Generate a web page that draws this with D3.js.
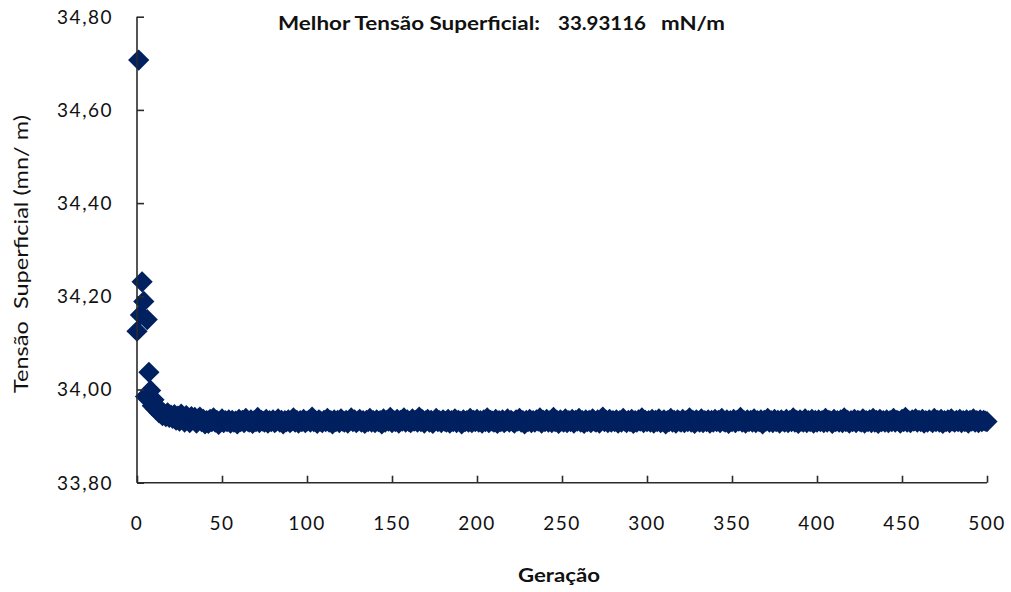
<!DOCTYPE html>
<html>
<head>
<meta charset="utf-8">
<script src="https://cdn.jsdelivr.net/npm/d3@7"></script>
<style>
  html, body { margin: 0; padding: 0; background: #ffffff; }
  svg { display: block; }
  text { font-family: "Lato", "Open Sans", "DejaVu Sans", sans-serif; fill: #111111; }
</style>
</head>
<body>
<svg id="chart" width="1011" height="592"></svg>
<script>
// Best surface tension found by the genetic algorithm (mN/m)
const bestValue = 33.93116;

// Best surface tension per generation, generations 0..500
const warmupTension = [
  34.125, 34.707, 34.160, 34.231, 34.189, 33.985, 34.150, 34.037, 33.998, 33.965,
  33.978, 33.958, 33.962, 33.950, 33.955, 33.944, 33.948, 33.942, 33.950, 33.940,
  33.945
];
const settlingTension = [
  33.938, 33.946, 33.934, 33.943, 33.932, 33.947, 33.936, 33.930, 33.944, 33.938,
  33.929, 33.942, 33.935, 33.940, 33.928, 33.937, 33.941, 33.931, 33.936, 33.926
];
const steadyTension = [
  33.933, 33.927, 33.936, 33.931, 33.939, 33.930, 33.934, 33.925, 33.932, 33.937, 33.929, 33.933, 33.931, 33.935, 33.928, 33.934, 33.930, 33.932, 33.926, 33.936,
  33.931, 33.934, 33.929, 33.938, 33.932, 33.930, 33.935, 33.927, 33.933, 33.931, 33.940, 33.929, 33.934, 33.932, 33.930, 33.936, 33.928, 33.933, 33.931, 33.935,
  33.929, 33.932, 33.937, 33.930, 33.934, 33.926, 33.933, 33.931, 33.935, 33.929, 33.932, 33.939, 33.930, 33.934, 33.928, 33.933, 33.931, 33.936, 33.929, 33.932,
  33.934, 33.930, 33.941, 33.931, 33.933, 33.927, 33.935, 33.932, 33.929, 33.934, 33.931, 33.938, 33.930, 33.933, 33.926, 33.935, 33.931, 33.934, 33.929, 33.937,
  33.932, 33.930, 33.934, 33.928, 33.933, 33.939, 33.931, 33.935, 33.929, 33.932, 33.936, 33.930, 33.933, 33.927, 33.934, 33.931, 33.938, 33.930, 33.933, 33.929,
  33.935, 33.931, 33.933, 33.926, 33.937, 33.930, 33.934, 33.932, 33.940, 33.929, 33.933, 33.931, 33.936, 33.928, 33.934, 33.932, 33.939, 33.930, 33.935, 33.931,
  33.929, 33.937, 33.932, 33.934, 33.930, 33.941, 33.931, 33.935, 33.928, 33.933, 33.936, 33.930, 33.934, 33.927, 33.932, 33.938, 33.931, 33.933, 33.929, 33.935,
  33.932, 33.930, 33.936, 33.928, 33.933, 33.931, 33.937, 33.929, 33.934, 33.932, 33.926, 33.935, 33.931, 33.933, 33.930, 33.938, 33.929, 33.934, 33.931, 33.936,
  33.930, 33.933, 33.928, 33.935, 33.931, 33.939, 33.929, 33.934, 33.932, 33.930, 33.936, 33.927, 33.933, 33.931, 33.935, 33.929, 33.932, 33.937, 33.930, 33.934,
  33.931, 33.928, 33.935, 33.932, 33.938, 33.930, 33.933, 33.926, 33.934, 33.931, 33.936, 33.929, 33.933, 33.930, 33.935, 33.932, 33.939, 33.928, 33.934, 33.931,
  33.936, 33.930, 33.933, 33.929, 33.940, 33.931, 33.934, 33.927, 33.935, 33.932, 33.930, 33.937, 33.929, 33.933, 33.931, 33.936, 33.928, 33.934, 33.932, 33.938,
  33.930, 33.933, 33.927, 33.935, 33.931, 33.934, 33.929, 33.937, 33.932, 33.930, 33.935, 33.928, 33.933, 33.941, 33.931, 33.934, 33.929, 33.936, 33.930, 33.933,
  33.931, 33.935, 33.928, 33.933, 33.930, 33.938, 33.932, 33.929, 33.934, 33.931, 33.936, 33.927, 33.933, 33.930, 33.935, 33.932, 33.939, 33.929, 33.934, 33.931,
  33.933, 33.930, 33.936, 33.928, 33.934, 33.931, 33.937, 33.929, 33.932, 33.935, 33.926, 33.933, 33.931, 33.938, 33.930, 33.934, 33.928, 33.935, 33.932, 33.930,
  33.936, 33.929, 33.933, 33.931, 33.939, 33.930, 33.934, 33.927, 33.935, 33.932, 33.930, 33.937, 33.929, 33.933, 33.931, 33.935, 33.928, 33.934, 33.930, 33.936,
  33.931, 33.934, 33.929, 33.938, 33.932, 33.930, 33.935, 33.927, 33.933, 33.931, 33.936, 33.929, 33.934, 33.932, 33.940, 33.930, 33.933, 33.928, 33.935, 33.931,
  33.934, 33.930, 33.937, 33.929, 33.933, 33.931, 33.935, 33.926, 33.934, 33.932, 33.938, 33.930, 33.933, 33.929, 33.936, 33.931, 33.934, 33.928, 33.935, 33.932,
  33.930, 33.936, 33.929, 33.933, 33.931, 33.939, 33.930, 33.934, 33.927, 33.935, 33.932, 33.930, 33.937, 33.929, 33.933, 33.931, 33.936, 33.928, 33.934, 33.930,
  33.935, 33.931, 33.933, 33.929, 33.938, 33.930, 33.934, 33.932, 33.927, 33.936, 33.931, 33.933, 33.930, 33.935, 33.929, 33.939, 33.931, 33.934, 33.928, 33.933,
  33.931, 33.936, 33.929, 33.934, 33.932, 33.930, 33.937, 33.928, 33.933, 33.931, 33.935, 33.929, 33.938, 33.930, 33.934, 33.927, 33.936, 33.931, 33.933, 33.930,
  33.935, 33.929, 33.933, 33.931, 33.938, 33.930, 33.934, 33.932, 33.928, 33.936, 33.931, 33.940, 33.930, 33.933, 33.929, 33.935, 33.932, 33.937, 33.930, 33.934,
  33.931, 33.936, 33.928, 33.933, 33.930, 33.935, 33.932, 33.929, 33.938, 33.931, 33.934, 33.930, 33.936, 33.927, 33.933, 33.931, 33.935, 33.929, 33.937, 33.932,
  33.930, 33.934, 33.931, 33.936, 33.929, 33.933, 33.931, 33.935, 33.928, 33.934, 33.932, 33.937, 33.930, 33.933, 33.929, 33.935, 33.931, 33.934, 33.932, 33.93116
];

// Axis ticks
const xTicks = [0, 50, 100, 150, 200, 250, 300, 350, 400, 450, 500];
const yTicks = [33.8, 34.0, 34.2, 34.4, 34.6, 34.8];

const titleLabel = "Melhor Tensão Superficial:";
const unitLabel = "mN/m";
const xAxisTitle = "Geração";
const yAxisTitle = "Tensão  Superficial (mn/ m)";

const tension = warmupTension.concat(settlingTension, steadyTension);
const points = tension.map((v, i) => ({ gen: i, value: v }));

const svg = d3.select("#chart");

const x = d3.scaleLinear().domain([0, 500]).range([137, 987]);
const y = d3.scaleLinear().domain([33.8, 34.8]).range([482.7, 16.7]);

// Brazilian decimal comma for the value axis
const ptBR = d3.formatLocale({ decimal: ",", thousands: ".", grouping: [3], currency: ["R$", ""] });
const fmtY = ptBR.format(".2f");

const axisColor = "#2b2b2b";
const markColor = "#002060";

// Points: diamonds drawn as rotated squares
const diamond = d3.symbol(d3.symbolSquare).size(225);
svg.append("g")
  .selectAll("path")
  .data(points)
  .join("path")
  .attr("d", diamond)
  .attr("transform", d => `translate(${x(d.gen)},${y(d.value)}) rotate(45)`)
  .attr("fill", markColor);

// Value axis: ticks point into the plot
const yAxis = svg.append("g")
  .attr("transform", `translate(${x(0)},0)`)
  .call(d3.axisRight(y).tickValues(yTicks).tickSize(7).tickFormat(""));
yAxis.select(".domain").attr("d", `M0,${y(33.8)}V${y(34.8)}`);
yAxis.selectAll("line, path").attr("stroke", axisColor).attr("stroke-width", 1.6);

svg.append("g")
  .selectAll("text")
  .data(yTicks)
  .join("text")
  .attr("x", 113)
  .attr("y", d => y(d))
  .attr("dy", "0.36em")
  .attr("text-anchor", "end")
  .attr("font-size", 19)
  .attr("letter-spacing", 1.5)
  .text(d => fmtY(d));

// Generation axis: ticks point up into the plot
const xAxis = svg.append("g")
  .attr("transform", `translate(0,${y(33.8)})`)
  .call(d3.axisTop(x).tickValues(xTicks).tickSize(7).tickFormat(""));
xAxis.select(".domain").attr("d", `M${x(0)},0H${x(500)}`);
xAxis.selectAll("line, path").attr("stroke", axisColor).attr("stroke-width", 1.6);

svg.append("g")
  .selectAll("text")
  .data(xTicks)
  .join("text")
  .attr("x", d => x(d))
  .attr("y", 530)
  .attr("text-anchor", "middle")
  .attr("font-size", 19)
  .attr("letter-spacing", 1.5)
  .text(d => d);

// Title
svg.append("text")
  .attr("x", 278).attr("y", 30)
  .attr("font-size", 19).attr("font-weight", 700)
  .attr("textLength", 262).attr("lengthAdjust", "spacingAndGlyphs")
  .text(titleLabel);
svg.append("text")
  .attr("x", 558).attr("y", 30)
  .attr("font-size", 19).attr("font-weight", 700)
  .attr("textLength", 88).attr("lengthAdjust", "spacingAndGlyphs")
  .text(d3.format(".5f")(bestValue));
svg.append("text")
  .attr("x", 661).attr("y", 30)
  .attr("font-size", 19).attr("font-weight", 700)
  .attr("textLength", 64).attr("lengthAdjust", "spacingAndGlyphs")
  .text(unitLabel);

// Axis titles
svg.append("text")
  .attr("x", 559).attr("y", 582)
  .attr("text-anchor", "middle")
  .attr("font-size", 19).attr("font-weight", 700)
  .attr("textLength", 82).attr("lengthAdjust", "spacingAndGlyphs")
  .text(xAxisTitle);

svg.append("text")
  .attr("transform", "translate(28,254) rotate(-90)")
  .attr("text-anchor", "middle")
  .attr("font-size", 19)
  .attr("xml:space", "preserve")
  .style("white-space", "pre")
  .attr("textLength", 278).attr("lengthAdjust", "spacingAndGlyphs")
  .text(yAxisTitle);
</script>
</body>
</html>
